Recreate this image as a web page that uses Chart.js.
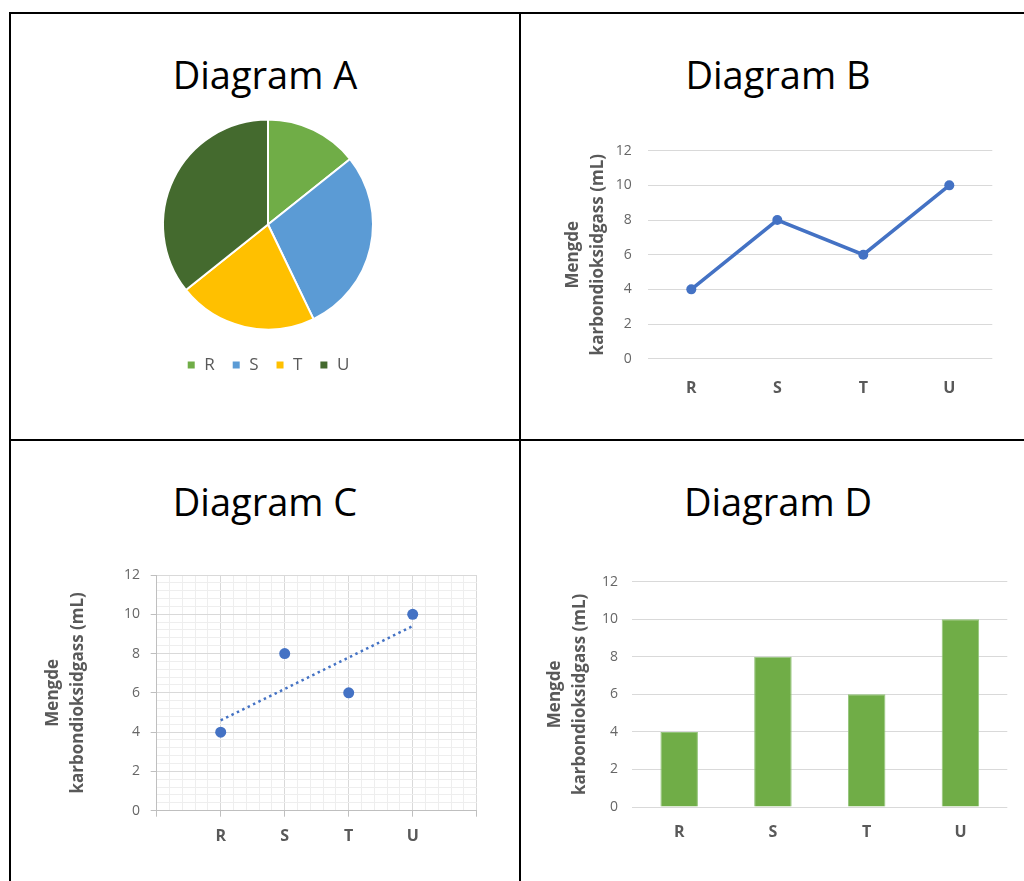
<!DOCTYPE html>
<html lang="no">
<head>
<meta charset="utf-8">
<title>Diagram A–D</title>
<script src="https://cdn.jsdelivr.net/npm/chart.js@4.4.1/dist/chart.umd.min.js"></script>
<style>
  html, body { margin: 0; padding: 0; background: #fff; }
  body { width: 1024px; height: 881px; position: relative; overflow: hidden; font-family: 'Open Sans', sans-serif; }
  .rule { position: absolute; background: #000; }
  .title { position: absolute; font-size: 38px; line-height: 38px; color: #000; text-align: center; white-space: nowrap; }
  canvas { position: absolute; }
</style>
</head>
<body>
  <!-- table rules -->
  <div class="rule" style="left:9px; top:12px; width:1015px; height:2px;"></div>
  <div class="rule" style="left:9px; top:12px; width:2px; height:869px;"></div>
  <div class="rule" style="left:519px; top:12px; width:2px; height:869px;"></div>
  <div class="rule" style="left:9px; top:439px; width:1015px; height:2px;"></div>

  <div class="title" style="left:10px; width:510px; top:55px;">Diagram A</div>
  <div class="title" style="left:520px; width:516px; top:55px;">Diagram B</div>
  <div class="title" style="left:10px; width:510px; top:482px;">Diagram C</div>
  <div class="title" style="left:520px; width:516px; top:482px;">Diagram D</div>

  <canvas id="chartA" width="256" height="290" style="left:140px; top:100px;"></canvas>
  <canvas id="chartB" width="470" height="290" style="left:540px; top:130px;"></canvas>
  <canvas id="chartC" width="470" height="300" style="left:20px; top:555px;"></canvas>
  <canvas id="chartD" width="480" height="290" style="left:540px; top:560px;"></canvas>

<script>
// Samples and measured amount of carbon dioxide gas (mL)
const categories = ['R', 'S', 'T', 'U'];
const co2Values = [4, 8, 6, 10];
// Linear trendline values at R and U
const trendValues = [4.6, 9.4];
const yAxisMax = 12;
const yAxisTitle = ['Mengde', 'karbondioksidgass (mL)'];

const sliceColors = ['#70AD47', '#5B9BD5', '#FFC000', '#446A2E'];
const lineBlue = '#4472C4';
const barGreen = '#70AD47';
const tickGray = '#666666';
const labelGray = '#595959';
const gridGray = '#d9d9d9';

Chart.defaults.font.family = "'Open Sans', sans-serif";
Chart.defaults.animation = false;
Chart.defaults.responsive = false;
Chart.defaults.devicePixelRatio = 1;
Chart.defaults.plugins.tooltip.enabled = false;

const yTitle = (padTop) => ({
  display: true,
  text: yAxisTitle,
  color: labelGray,
  font: { size: 17, weight: 'bold', lineHeight: 1.5 },
  padding: { top: padTop, bottom: 0 }
});
const catTicks = (pad) => ({
  color: labelGray,
  font: { size: 16, weight: 'bold' },
  padding: pad,
  maxRotation: 0
});
const numTicks = (pad) => ({
  stepSize: 2,
  color: tickGray,
  font: { size: 14 },
  padding: pad
});
// fixed y-axis width; the plot top is then set by layout padding alone
const fixedYAxis = (width) => (s) => {
  s.width = width;
  s.paddingTop = 0;
  s.paddingBottom = 0;
};

// Diagram A: pie
new Chart(document.getElementById('chartA'), {
  type: 'pie',
  data: {
    labels: categories,
    datasets: [{
      data: co2Values,
      backgroundColor: sliceColors,
      borderColor: '#ffffff',
      borderWidth: 2
    }]
  },
  options: {
    radius: 105,
    layout: { padding: { top: 9.5, bottom: 6.5, left: 0, right: 0 } },
    plugins: {
      legend: {
        position: 'bottom',
        labels: {
          boxWidth: 9,
          boxHeight: 9,
          padding: 17,
          color: labelGray,
          font: { size: 17 }
        }
      }
    }
  }
});

// Diagram B: line
new Chart(document.getElementById('chartB'), {
  type: 'line',
  data: {
    labels: categories,
    datasets: [{
      data: co2Values,
      borderColor: lineBlue,
      backgroundColor: lineBlue,
      borderWidth: 3.5,
      pointRadius: 5,
      pointBorderWidth: 0,
      pointBackgroundColor: lineBlue,
      tension: 0
    }]
  },
  options: {
    layout: { padding: { top: 20.7, right: 17.7, left: 0, bottom: 0 } },
    plugins: { legend: { display: false } },
    scales: {
      x: {
        offset: true,
        grid: { display: false, drawTicks: false },
        border: { display: false },
        ticks: catTicks(20),
        afterFit: (s) => { s.height = 61.3; }
      },
      y: {
        min: 0,
        max: yAxisMax,
        ticks: numTicks(16.6),
        grid: { color: gridGray, drawTicks: false },
        border: { display: false },
        title: yTitle(20.2),
        afterFit: fixedYAxis(108.3)
      }
    }
  }
});

// Diagram C: scatter with linear trendline on a fine grid
const isMultiple = (v, step) => Math.abs(v / step - Math.round(v / step)) < 1e-6;
const minorGrid = '#eeeeee';
const axisGray = '#bfbfbf';

new Chart(document.getElementById('chartC'), {
  type: 'scatter',
  data: {
    datasets: [
      {
        data: co2Values.map((v, i) => ({ x: i + 1, y: v })),
        backgroundColor: lineBlue,
        borderColor: lineBlue,
        pointRadius: 5.5,
        pointBorderWidth: 0
      },
      {
        data: [
          { x: 1, y: trendValues[0] },
          { x: categories.length, y: trendValues[1] }
        ],
        showLine: true,
        borderColor: lineBlue,
        borderWidth: 2.5,
        borderDash: [2.5, 3.5],
        pointRadius: 0
      }
    ]
  },
  options: {
    layout: { padding: { top: 20, right: 13.3, left: 0, bottom: 0 } },
    plugins: { legend: { display: false } },
    scales: {
      x: {
        type: 'linear',
        min: 0,
        max: categories.length + 1,
        grid: {
          color: (c) => isMultiple(c.tick.value, 1) ? gridGray : minorGrid,
          tickColor: (c) => isMultiple(c.tick.value, 1) ? axisGray : 'rgba(0,0,0,0)',
          tickLength: 6
        },
        border: { color: axisGray },
        ticks: {
          stepSize: 0.2,
          autoSkip: false,
          maxRotation: 0,
          color: labelGray,
          font: { size: 16, weight: 'bold' },
          padding: 10.4,
          callback: (v) => {
            const i = Math.round(v);
            return (isMultiple(v, 1) && i >= 1 && i <= categories.length) ? categories[i - 1] : '';
          }
        },
        afterFit: (s) => { s.height = 44.3; }
      },
      y: {
        min: 0,
        max: yAxisMax,
        grid: {
          color: (c) => isMultiple(c.tick.value, 2) ? gridGray : minorGrid,
          tickColor: (c) => isMultiple(c.tick.value, 2) ? axisGray : 'rgba(0,0,0,0)',
          tickLength: 6
        },
        border: { color: axisGray },
        ticks: {
          stepSize: 0.4,
          autoSkip: false,
          color: tickGray,
          font: { size: 14 },
          padding: 10.7,
          callback: (v) => isMultiple(v, 2) ? String(Math.round(v)) : ''
        },
        title: yTitle(20.2),
        afterFit: fixedYAxis(136.7)
      }
    }
  }
});

// Diagram D: columns
new Chart(document.getElementById('chartD'), {
  type: 'bar',
  data: {
    labels: categories,
    datasets: [{
      data: co2Values,
      backgroundColor: barGreen,
      borderColor: '#93c47a',
      borderWidth: 1,
      categoryPercentage: 1,
      barPercentage: 0.4
    }]
  },
  options: {
    layout: { padding: { top: 21.7, right: 12.7, left: 0, bottom: 0 } },
    plugins: { legend: { display: false } },
    scales: {
      x: {
        grid: { display: false, drawTicks: false },
        border: { display: false },
        ticks: catTicks(16),
        afterFit: (s) => { s.height = 43; }
      },
      y: {
        min: 0,
        max: yAxisMax,
        ticks: numTicks(14.3),
        grid: { color: gridGray, drawTicks: false },
        border: { display: false },
        title: yTitle(2.2),
        afterFit: fixedYAxis(92.3)
      }
    }
  }
});
</script>
</body>
</html>
